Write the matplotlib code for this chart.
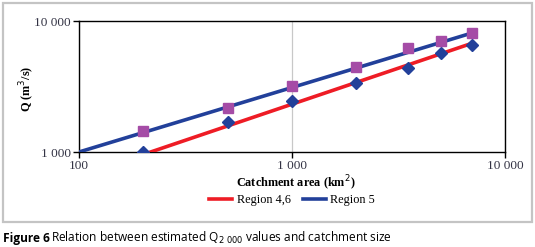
import numpy as np
import matplotlib.pyplot as plt
from matplotlib.patches import Rectangle
from matplotlib.ticker import FixedLocator, NullLocator

# catchment area (km2) and estimated Q2000 (m3/s)
area = [200, 500, 1000, 2000, 3500, 5000, 7000]
q_region46 = [1000, 1700, 2460, 3350, 4400, 5730, 6560]
q_region5 = [1450, 2170, 3190, 4480, 6190, 7080, 8050]

# fitted lines (end points)
fit46_x = [217, 7000]
fit46_y = [1000, 6760]
fit5_x = [100, 7000]
fit5_y = [1000, 8100]

x_ticks = [100, 1000, 10000]
y_ticks = [1000, 10000]

W, H = 535, 247
fig = plt.figure(figsize=(W / 100, H / 100), dpi=100)

# chart frame
fig.patches.append(Rectangle((3 / W, 1 - 222 / H), 529 / W, 219 / H,
                             transform=fig.transFigure, fill=False,
                             edgecolor="#c4c4c4", linewidth=1.6))

ax = fig.add_axes([79 / W, 1 - 152 / H, 426 / W, 131 / H])
ax.set_xscale("log")
ax.set_yscale("log")
ax.set_xlim(100, 10000)
ax.set_ylim(1000, 10000)

ax.plot(fit46_x, fit46_y, color="#ee1c25", lw=2.6, label="Region 4,6", zorder=3)
ax.plot(fit5_x, fit5_y, color="#22409a", lw=2.6, label="Region 5", zorder=3)
ax.plot(area, q_region46, linestyle="none", marker="D", ms=6, color="#22409a",
        zorder=4)
ax.plot(area, q_region5, linestyle="none", marker="s", ms=6.5, color="#a54ca6",
        zorder=4)

ax.xaxis.set_major_locator(FixedLocator(x_ticks))
ax.yaxis.set_major_locator(FixedLocator(y_ticks))
ax.xaxis.set_minor_locator(NullLocator())
ax.yaxis.set_minor_locator(NullLocator())
fmt = lambda v: f"{int(v):,}".replace(",", " ")
ax.set_xticklabels([fmt(v) for v in x_ticks])
ax.set_yticklabels([fmt(v) for v in y_ticks])
ax.grid(axis="x", color="#c8c8c8", lw=0.9)
ax.set_axisbelow(True)

serif = ["Liberation Serif", "DejaVu Serif"]
ax.tick_params(direction="out", length=4, width=1, colors="black",
               labelcolor="#333344", labelsize=9.5, pad=2)
for lab in ax.get_xticklabels() + ax.get_yticklabels():
    lab.set_family(serif)
for s in ax.spines.values():
    s.set_linewidth(1.0)
    s.set_color("black")

ax.set_xlabel("Catchment area (km$^{2}$)", family=serif, fontweight="bold",
              fontsize=8.8, va="center")
ax.xaxis.set_label_coords((296 - 79) / 426, (152 - 183) / 131)
ax.set_ylabel("Q (m$^{3}$/s)", family=serif, fontweight="bold", fontsize=8.8,
              va="center")
ax.yaxis.set_label_coords((27 - 79) / 426, 0.48)

leg = fig.legend(loc="center", bbox_to_anchor=(292 / W, 1 - 200 / H), ncol=2,
                 frameon=False, prop={"family": serif, "size": 8.8},
                 handlelength=1.9, handletextpad=0.35, columnspacing=1.0,
                 borderpad=0.1)

fig.text(3 / W, 1 - 238 / H, "Figure 6", fontsize=8.6, fontweight="bold",
         family="Open Sans", va="center", ha="left")
fig.text(51 / W, 1 - 238 / H,
         "Relation between estimated Q$_{2\\ 000}$ values and catchment size",
         fontsize=8.6, family="Open Sans", va="center", ha="left")

fig.savefig("out.png", dpi=100)
